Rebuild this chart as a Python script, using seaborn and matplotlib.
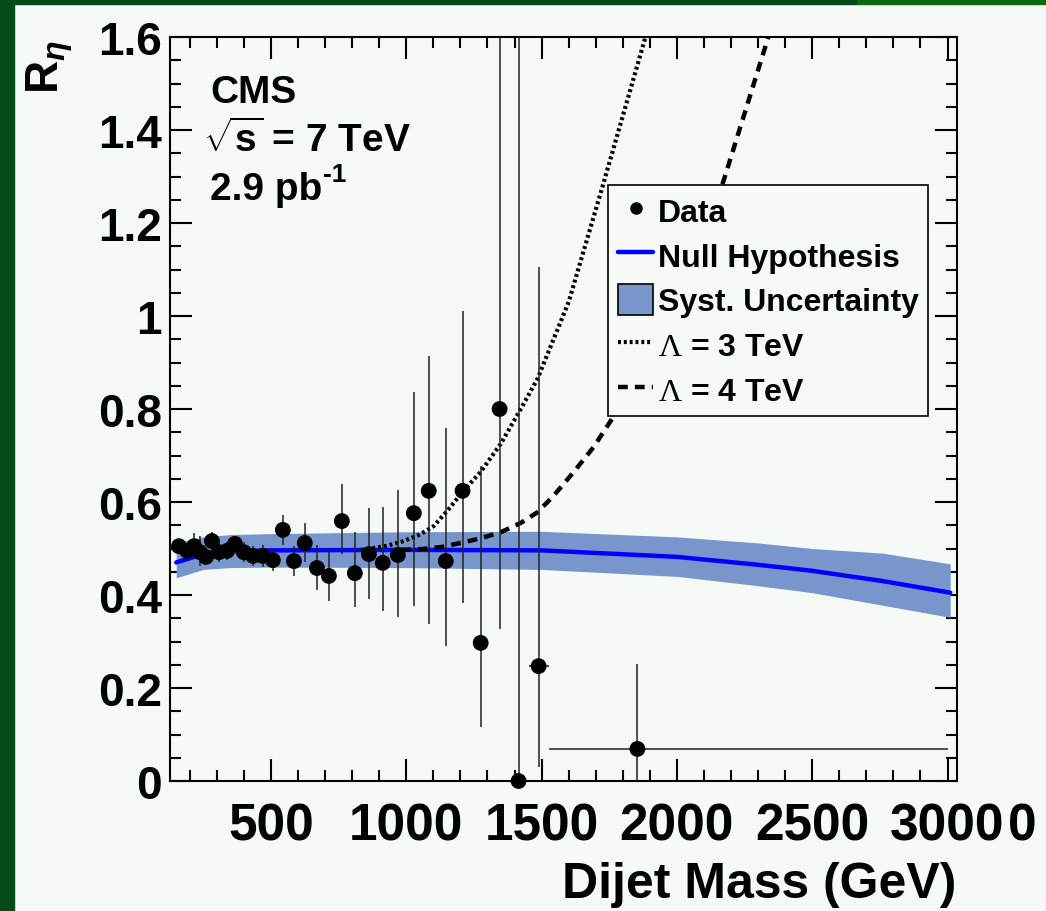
import numpy as np
import pandas as pd
import matplotlib
matplotlib.use("Agg")
import matplotlib.pyplot as plt
import seaborn as sns
from matplotlib.lines import Line2D
from matplotlib.patches import Patch, Rectangle

# ---------------- data ----------------
mass = [160, 190, 216, 238, 260, 282, 308, 338, 367, 400, 434, 470, 507, 544, 585, 625,
        670, 714, 762, 810, 862, 913, 969, 1028, 1083, 1146, 1208, 1275, 1345, 1415, 1489, 1854]
ratio = [0.505, 0.495, 0.505, 0.492, 0.482, 0.516, 0.492, 0.495, 0.510, 0.492, 0.484, 0.484,
         0.475, 0.540, 0.473, 0.512, 0.458, 0.441, 0.559, 0.447, 0.488, 0.469, 0.486, 0.576,
         0.624, 0.473, 0.624, 0.297, 0.800, 0.000, 0.247, 0.069]
err_lo = [0.012, 0.014, 0.016, 0.03, 0.018, 0.02, 0.02, 0.02, 0.02, 0.022, 0.022, 0.024,
          0.023, 0.033, 0.032, 0.041, 0.047, 0.054, 0.071, 0.073, 0.097, 0.103, 0.133, 0.20,
          0.286, 0.183, 0.241, 0.181, 0.473, 0.0, 0.217, 0.069]
err_hi = [0.012, 0.014, 0.028, 0.035, 0.018, 0.02, 0.02, 0.02, 0.015, 0.022, 0.022, 0.024,
          0.023, 0.033, 0.032, 0.043, 0.049, 0.058, 0.080, 0.088, 0.10, 0.12, 0.14, 0.26,
          0.29, 0.287, 0.386, 0.38, 1.0, 1.8, 0.858, 0.183]
xerr_lo = [0]*30 + [37, 328]
xerr_hi = [0]*30 + [37, 1146]

null_x = [150, 250, 350, 500, 1000, 1500, 2000, 2300, 2500, 2760, 3010]
null_y = [0.470, 0.488, 0.494, 0.496, 0.497, 0.496, 0.482, 0.465, 0.452, 0.430, 0.405]
band_lo = [0.437, 0.455, 0.459, 0.460, 0.459, 0.455, 0.440, 0.420, 0.405, 0.378, 0.352]
band_hi = [0.512, 0.525, 0.530, 0.532, 0.536, 0.537, 0.525, 0.512, 0.500, 0.490, 0.467]

lam3_x = [832, 869, 930, 991, 1050, 1101, 1150, 1212, 1275, 1349, 1423, 1485, 1600, 1721, 1884, 1950]
lam3_y = [0.497, 0.500, 0.506, 0.516, 0.530, 0.548, 0.580, 0.624, 0.665, 0.725, 0.800, 0.865,
          1.03, 1.27, 1.60, 1.75]
lam4_x = [980, 1060, 1127, 1201, 1275, 1349, 1423, 1485, 1544, 1618, 1692, 1773, 1970, 2172, 2338, 2400]
lam4_y = [0.497, 0.499, 0.503, 0.512, 0.522, 0.535, 0.555, 0.578, 0.613, 0.664, 0.718, 0.790,
          0.99, 1.29, 1.60, 1.72]

xticks = [500, 1000, 1500, 2000, 2500, 3000]
yticks = [0, 0.2, 0.4, 0.6, 0.8, 1.0, 1.2, 1.4, 1.6]
ytick_labels = ["0", "0.2", "0.4", "0.6", "0.8", "1", "1.2", "1.4", "1.6"]

# ---------------- style ----------------
sns.set_style("ticks")
BG = "#f5faf7"
FONT = ["Liberation Sans", "DejaVu Sans"]
plt.rcParams["font.family"] = FONT
plt.rcParams["font.weight"] = "bold"
for k in ["text.color", "axes.labelcolor", "xtick.color", "ytick.color", "axes.edgecolor"]:
    plt.rcParams[k] = "black"
plt.rcParams["mathtext.fontset"] = "custom"
plt.rcParams["mathtext.rm"] = "Liberation Sans:bold"
plt.rcParams["mathtext.bf"] = "Liberation Sans:bold"
plt.rcParams["mathtext.it"] = "Liberation Sans:bold:italic"
plt.rcParams["mathtext.sf"] = "Liberation Serif:normal"

W, H = 1046, 912
fig = plt.figure(figsize=(W / 100, H / 100), dpi=100, facecolor=BG)
# green slide borders
fig.patches.append(Rectangle((0, 0), 14 / W, 1, transform=fig.transFigure, color="#034a19", zorder=-10))
fig.patches.append(Rectangle((0, 1 - 5 / H), 857 / W, 5 / H, transform=fig.transFigure, color="#034a19", zorder=-10))
fig.patches.append(Rectangle((857 / W, 1 - 5 / H), 1 - 857 / W, 5 / H, transform=fig.transFigure, color="#0b6a10", zorder=-10))

L, R, T, B = 170, 957, 38, 782
ax = fig.add_axes([L / W, 1 - B / H, (R - L) / W, (B - T) / H])
ax.set_facecolor(BG)

band_color = "#7896cc"
DOT = (0, (0.7, 0.7))
DASH = (0, (2.2, 1.6))
ax.fill_between(null_x, band_lo, band_hi, color=band_color, lw=0, zorder=1)
df_null = pd.DataFrame({"x": null_x, "y": null_y})
sns.lineplot(data=df_null, x="x", y="y", ax=ax, color="#0000ff", lw=3.2, zorder=2)
df3 = pd.DataFrame({"x": lam3_x, "y": lam3_y})
sns.lineplot(data=df3, x="x", y="y", ax=ax, color="black", lw=3.0, ls=DOT, zorder=3)
df4 = pd.DataFrame({"x": lam4_x, "y": lam4_y})
sns.lineplot(data=df4, x="x", y="y", ax=ax, color="black", lw=3.2, ls=DASH, zorder=3)

ax.errorbar(mass, ratio, yerr=[err_lo, err_hi], xerr=[xerr_lo, xerr_hi], fmt="none",
            ecolor="#222222", elinewidth=1.1, capsize=0, zorder=4)
df_data = pd.DataFrame({"m": mass, "r": ratio})
sns.scatterplot(data=df_data, x="m", y="r", ax=ax, color="black", s=130, edgecolor="none",
                zorder=5, clip_on=False)

ax.set_xlim(127, 3035)
ax.set_ylim(0, 1.6)
ax.set_xlabel("")
ax.set_ylabel("")
ax.set_xticks(xticks)
ax.set_xticklabels([str(t) for t in xticks])
ax.set_xticks(np.arange(200, 3001, 100), minor=True)
ax.set_yticks(yticks)
ax.set_yticklabels(ytick_labels)
ax.set_yticks(np.arange(0.05, 1.6, 0.05), minor=True)
ax.tick_params(which="both", direction="in", top=True, right=True, width=1.5, color="black")
ax.tick_params(which="major", length=16)
ax.tick_params(which="minor", length=8)
ax.tick_params(axis="x", which="major", labelsize=37, pad=15)
ax.tick_params(axis="y", which="major", labelsize=33, pad=6)
for lab in ax.get_xticklabels() + ax.get_yticklabels():
    lab.set_fontweight("bold")
    lab.set_color("black")
for s in ax.spines.values():
    s.set_linewidth(1.5)
    s.set_color("black")

# legend
handles = [
    Line2D([], [], ls="none", marker="o", color="black", ms=8),
    Line2D([], [], color="#0000ff", lw=3.2),
    Patch(facecolor=band_color, edgecolor="black", lw=1.2),
    Line2D([], [], color="black", lw=3.0, ls=DOT),
    Line2D([], [], color="black", lw=3.2, ls=DASH),
]
labels = ["Data", "Null Hypothesis", "Syst. Uncertainty",
          r"$\mathsf{\Lambda}$ = 3 TeV", r"$\mathsf{\Lambda}$ = 4 TeV"]
leg = ax.legend(handles, labels, loc="upper left", bbox_to_anchor=(0.557, 0.801),
                prop={"family": FONT, "weight": "bold", "size": 23},
                frameon=True, fancybox=False, edgecolor="black", facecolor=BG, framealpha=1,
                handlelength=1.1, handleheight=1.1, handletextpad=0.15, labelspacing=0.36,
                borderpad=0.3, borderaxespad=0)
leg.get_frame().set_linewidth(1.2)
for t in leg.get_texts():
    t.set_color("black")

# annotations
def ftext(x, y, s, **kw):
    fig.text(x / W, 1 - y / H, s, **kw)

ftext(210, 103, "CMS", fontsize=28, fontweight="bold", va="baseline", ha="left")
ftext(203, 152, r"$\sqrt{\mathbf{s}}$ = 7 TeV", fontsize=28, fontweight="bold", va="baseline", ha="left")
ftext(210, 200, "2.9 pb", fontsize=28, fontweight="bold", va="baseline", ha="left")
ftext(323, 182, "-1", fontsize=19, fontweight="bold", va="baseline", ha="left")
ftext(956, 898, "Dijet Mass (GeV)", fontsize=36, fontweight="bold", va="baseline", ha="right")
ftext(50, 94, r"R$_{\eta}$", fontsize=33, fontweight="bold", rotation=90, va="bottom", ha="center")
ftext(1008, 841, "0", fontsize=37, fontweight="bold", va="baseline", ha="left")

fig.savefig("out.png", dpi=100, facecolor=BG)
